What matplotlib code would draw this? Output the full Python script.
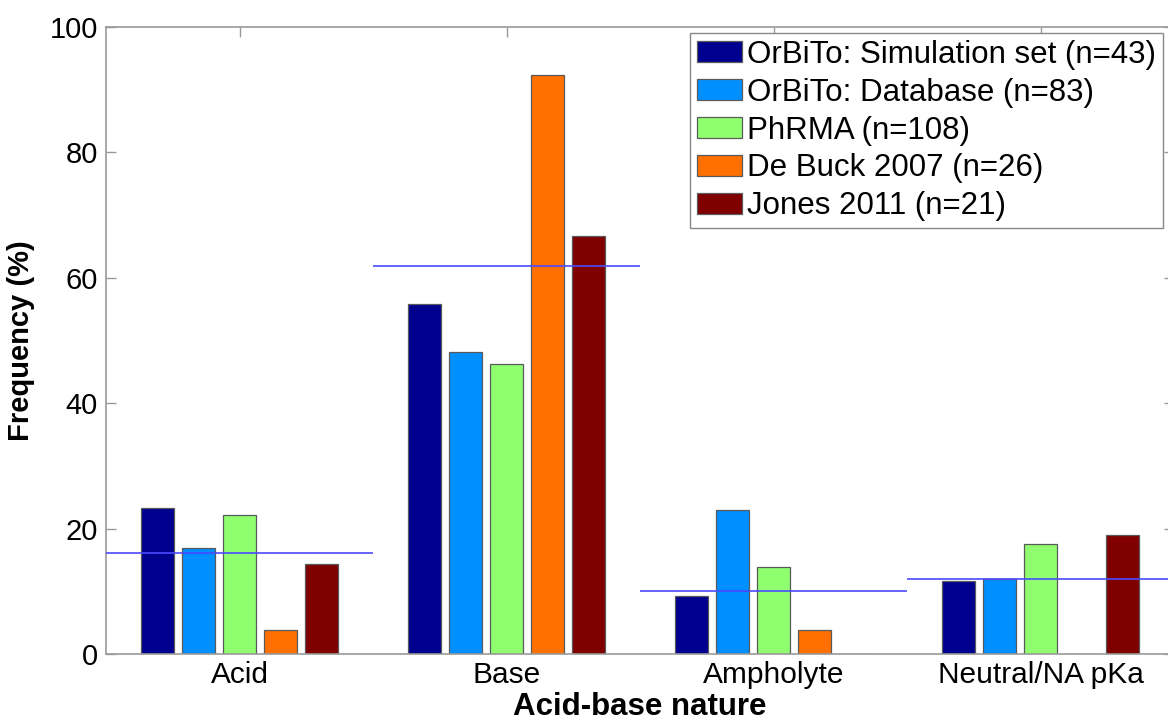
import matplotlib
matplotlib.use('Agg')
import matplotlib.pyplot as plt
import numpy as np

categories = ['Acid', 'Base', 'Ampholyte', 'Neutral/NA pKa']
series_labels = ['OrBiTo: Simulation set (n=43)', 'OrBiTo: Database (n=83)',
                 'PhRMA (n=108)', 'De Buck 2007 (n=26)', 'Jones 2011 (n=21)']
sim_set = [23.3, 55.8, 9.3, 11.6]
database = [16.9, 48.2, 22.9, 12.0]
phrma = [22.2, 46.3, 13.9, 17.6]
debuck = [3.8, 92.3, 3.8, 0.0]
jones = [14.3, 66.7, 0.0, 19.0]
series = [sim_set, database, phrma, debuck, jones]
colors = ['#00008F', '#008FFF', '#8FFF70', '#FF7000', '#800000']
yticks = [0, 20, 40, 60, 80, 100]

plt.rcParams['font.family'] = ['Liberation Sans', 'DejaVu Sans']

fig = plt.figure(figsize=(11.68, 7.2), dpi=100)
ax = fig.add_axes([106/1168, 66/720, 1068/1168, 627/720])

x = np.arange(1, len(categories) + 1)
n = len(series)
group_w = min(0.8, n / (n + 1.5))
pitch = group_w / n
bw = 0.8 * pitch
for i, (vals, lab, c) in enumerate(zip(series, series_labels, colors)):
    ax.bar(x + (i - (n - 1) / 2) * pitch, vals, width=bw, color=c,
           edgecolor='#5a5a5a', linewidth=0.9, label=lab, zorder=2)

means = np.mean(np.array(series), axis=0)
for xi, m in zip(x, means):
    ax.hlines(m, xi - 0.5, xi + 0.5, color='#4a4aff', linewidth=1.2, zorder=3)

ax.set_xlim(0.5, len(categories) + 0.5)
ax.set_ylim(0, 100)
ax.set_xticks(x)
ax.set_xticklabels(categories)
ax.set_yticks(yticks)
ax.tick_params(direction='in', length=7, width=1, color='#999999',
               labelsize=21, top=True, right=True, labelcolor='black')
ax.tick_params(axis='x', pad=5, labelsize=21.5)
ax.tick_params(axis='y', pad=6)
for s in ax.spines.values():
    s.set_color('#999999')
    s.set_linewidth(1.2)

ax.set_xlabel('Acid-base nature', fontsize=22.5, fontweight='bold', labelpad=2)
ax.set_ylabel('Frequency (%)', fontsize=21, fontweight='bold', labelpad=10)

leg = ax.legend(loc='upper right', bbox_to_anchor=(1163/1168, 1 - 33/720),
                bbox_transform=fig.transFigure, borderaxespad=0,
                fontsize=22.5, fancybox=False, framealpha=1, edgecolor='#888888',
                handlelength=1.45, handleheight=0.66, handletextpad=0.15,
                labelspacing=0.25, borderpad=0.22)
leg.get_frame().set_linewidth(1.0)

fig.savefig('out.png', dpi=100)
